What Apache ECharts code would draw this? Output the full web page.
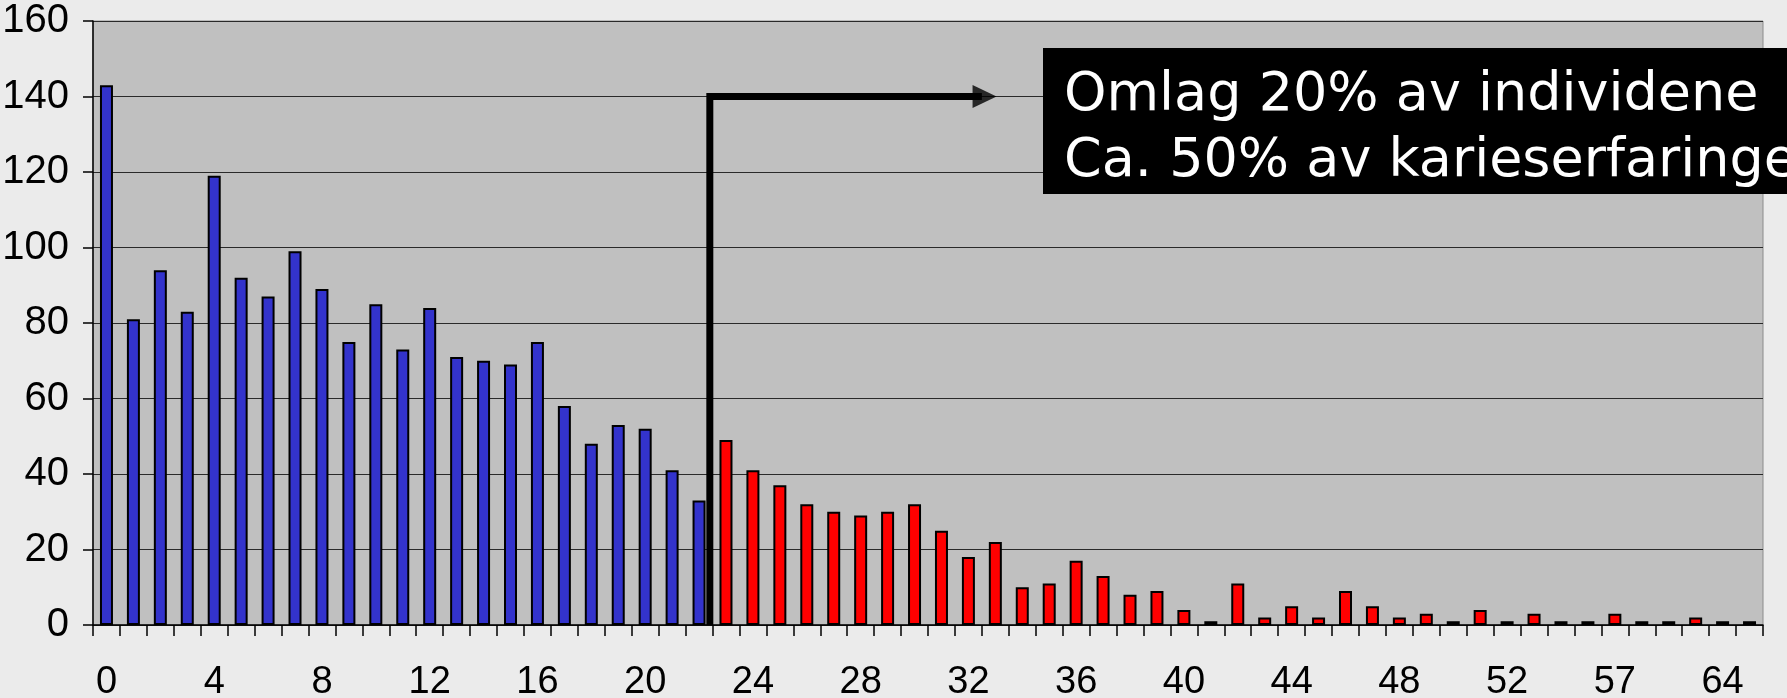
<!DOCTYPE html>
<html>
<head>
<meta charset="utf-8">
<script src="https://cdn.jsdelivr.net/npm/echarts@6/dist/echarts.min.js"></script>
<style>
  html, body { margin: 0; padding: 0; background: #ebebeb; }
  #chart { width: 1787px; height: 698px; }
</style>
</head>
<body>
<div id="chart"></div>
<script>
// antall tenner med karieserfaring (kategorier) og antall individer
var categories = [
  "0", "1", "2", "3", "4", "5", "6", "7", "8", "9", "10", "11", "12", "13", "14", "15",
  "16", "17", "18", "19", "20", "21", "22", "23", "24", "25", "26", "27", "28", "29", "30", "31",
  "32", "33", "34", "35", "36", "37", "38", "39", "40", "41", "42", "43", "44", "45", "46", "47",
  "48", "49", "50", "51", "52", "53", "54", "55", "57", "58", "60", "62", "64", "67"
];
var counts = [
  143, 81, 94, 83, 119, 92, 87, 99, 89, 75, 85, 73, 84, 71, 70, 69,
  75, 58, 48, 53, 52, 41, 33, 49, 41, 37, 32, 30, 29, 30, 32, 25,
  18, 22, 10, 11, 17, 13, 8, 9, 4, 1, 11, 2, 5, 2, 9, 5,
  2, 3, 1, 4, 1, 3, 1, 1, 3, 1, 1, 2, 1, 1
];
var blueCount = 23; // de første 23 kategoriene er blå, resten røde
var yTicks = [0, 20, 40, 60, 80, 100, 120, 140, 160];

// pil: loddrett fra 0 til 140, så vannrett mot høyre (x i kategori-enheter)
var arrowPath = [[22.9, 0], [22.9, 140], [33.0, 140]];
var arrowHead = [[33.1, 140]];
var boxLines = ["Omlag 20% av individene", "Ca. 50% av karieserfaringen"];

var myChart = echarts.init(document.getElementById("chart"));

var option = {
  backgroundColor: "#ebebeb",
  animation: false,
  grid: {
    left: 93,
    right: 24,
    top: 21,
    bottom: 73,
    outerBoundsMode: "none",
    show: true,
    backgroundColor: "#c0c0c0",
    borderColor: "#8c8c8c",
    borderWidth: 1,
  },
  xAxis: [
    {
      type: "category",
      data: categories,
      boundaryGap: true,
      axisLine: { lineStyle: { color: "#000", width: 1.5 } },
      axisTick: { show: true, interval: 0, length: 11, lineStyle: { color: "#000", width: 1.5 } },
      axisLabel: {
        interval: 3,
        margin: 39,
        color: "#000",
        fontFamily: "Liberation Sans",
        fontSize: 38,
      },
    },
    {
      // skjult lineær akse for pila
      type: "value",
      min: 0,
      max: categories.length,
      show: false,
    },
  ],
  yAxis: {
    type: "value",
    min: yTicks[0],
    max: yTicks[yTicks.length - 1],
    interval: 20,
    axisLine: { show: true, lineStyle: { color: "#000", width: 1.5 } },
    axisTick: { show: true, length: 10, lineStyle: { color: "#000", width: 1.5 } },
    axisLabel: {
      margin: 24,
      color: "#000",
      fontFamily: "Liberation Sans",
      fontSize: 40,
    },
    splitLine: { lineStyle: { color: "#2a2a2a", width: 1.2 } },
  },
  series: [
    {
      type: "bar",
      data: counts,
      barWidth: 13,
      itemStyle: {
        color: function (p) {
          return p.dataIndex < blueCount ? "#3333cc" : "#ff0000";
        },
        borderColor: "#000",
        borderWidth: 2,
      },
      z: 2,
    },
    {
      type: "line",
      xAxisIndex: 1,
      data: arrowPath,
      symbol: "none",
      lineStyle: { color: "#000", width: 7, cap: "butt", join: "miter" },
      z: 5,
    },
    {
      type: "scatter",
      xAxisIndex: 1,
      data: arrowHead,
      symbol: "path://M0,0L10,5L0,10Z",
      symbolSize: [24, 23],
      itemStyle: { color: "#000" },
      z: 6,
    },
  ],
  graphic: [
    {
      type: "rect",
      shape: { x: 1043, y: 48, width: 800, height: 146 },
      style: { fill: "#000" },
      z: 10,
    },
    {
      type: "text",
      x: 1064,
      y: 63,
      style: {
        text: boxLines.join("\n"),
        fill: "#fff",
        font: "54px 'DejaVu Sans'",
        lineHeight: 66,
        verticalAlign: "top",
      },
      z: 11,
    },
  ],
};

myChart.setOption(option);
window.onresize = function () {
  myChart.resize();
};
</script>
</body>
</html>
